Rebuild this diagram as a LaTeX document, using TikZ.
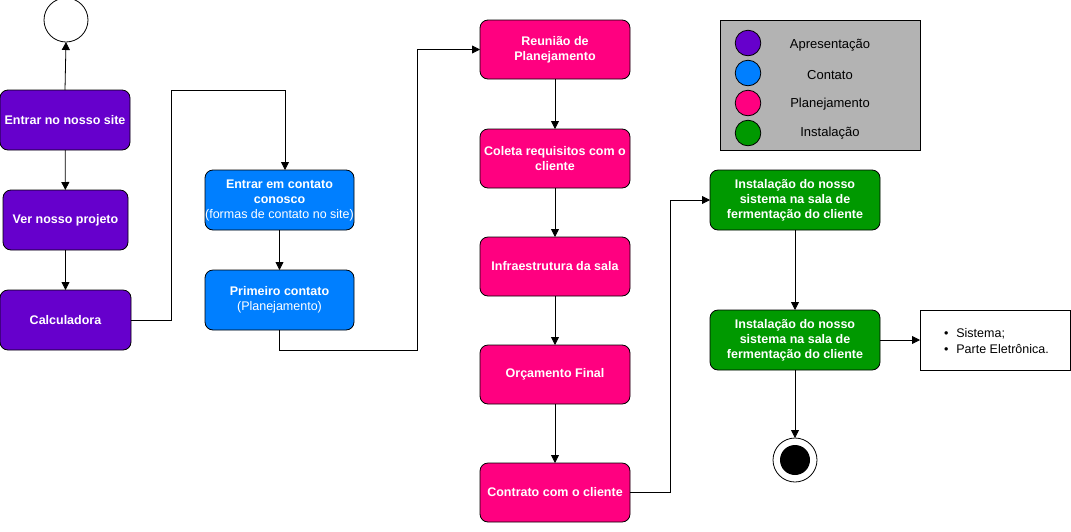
\documentclass[tikz,border=0pt]{standalone}
\usepackage{fontspec}
\setmainfont{Liberation Sans}
\usetikzlibrary{arrows.meta}
\definecolor{cPurple}{RGB}{102,0,204}
\definecolor{cBlue}{RGB}{0,127,255}
\definecolor{cPink}{RGB}{255,0,128}
\definecolor{cGreen}{RGB}{0,153,0}
\definecolor{cLegend}{RGB}{179,179,179}
\begin{document}
\begin{tikzpicture}[x=1pt,y=-1pt,
  every node/.style={inner sep=0pt,outer sep=0pt},
  stepbox/.style={draw=black,line width=0.8pt,rounded corners=8pt,
    minimum height=60pt,align=center,text=white,
    font=\fontsize{12.5}{15}\selectfont\bfseries},
  apres/.style={stepbox,fill=cPurple},
  cont/.style={stepbox,fill=cBlue},
  plan/.style={stepbox,fill=cPink,minimum width=150pt,minimum height=59pt},
  inst/.style={stepbox,fill=cGreen,minimum width=170pt},
  arr/.style={draw=black,line width=0.8pt,-{Triangle[length=8pt,width=8pt]}},
  legdot/.style={circle,draw=black,line width=0.8pt,minimum size=25.6pt},
  legtxt/.style={font=\fontsize{13}{15.5}\selectfont},
]
\useasboundingbox (0,0) rectangle (1071,531);

% start node
\node[circle,draw=black,line width=0.8pt,fill=white,minimum size=44pt] (start) at (66,20) {};

% presentation steps
\node[apres,minimum width=130pt] (site) at (65,120) {Entrar no nosso site};
\node[apres,minimum width=125pt] (proj) at (65.5,220) {Ver nosso projeto};
\node[apres,minimum width=131pt] (calc) at (65.5,320) {Calculadora};

% contact steps
\node[cont,minimum width=149pt] (contato) at (279.5,200)
  {Entrar em contato\\conosco\\{\mdseries(formas de contato no site)}};
\node[cont,minimum width=149pt] (primeiro) at (279.5,300)
  {Primeiro contato\\{\mdseries(Planejamento)}};

% planning steps
\node[plan] (reuniao) at (555,49.5) {Reunião de\\Planejamento};
\node[plan] (coleta) at (555,158.5) {Coleta requisitos com o\\cliente};
\node[plan] (infra) at (555,266.5) {Infraestrutura da sala};
\node[plan] (orc) at (555,374.5) {Orçamento Final};
\node[plan] (contrato) at (555,492.5) {Contrato com o cliente};

% installation steps
\node[inst] (inst1) at (795,200)
  {Instalação do nosso\\sistema na sala de\\fermentação do cliente};
\node[inst] (inst2) at (795,340)
  {Instalação do nosso\\sistema na sala de\\fermentação do cliente};

% note with the installed parts
\node[draw=black,line width=0.8pt,fill=white,minimum width=150pt,minimum height=60pt] (notes) at (995,340) {};
\node[font=\fontsize{12.5}{15.5}\selectfont,anchor=west,align=left] (notetxt) at (944,341)
  {\textbullet\hspace{8pt}Sistema;\\\textbullet\hspace{8pt}Parte Eletrônica.};

% final node
\node[circle,draw=black,line width=0.8pt,fill=white,minimum size=44pt] (endc) at (795,460) {};
\node[circle,fill=black,minimum size=30pt] (endin) at (795,460) {};

% legend
\node[draw=black,line width=1pt,fill=cLegend,minimum width=200pt,minimum height=130pt] (legend) at (820,85) {};
\node[legdot,fill=cPurple] (lg1) at (748,43) {};
\node[legdot,fill=cBlue] (lg2) at (748,73) {};
\node[legdot,fill=cPink] (lg3) at (748,103) {};
\node[legdot,fill=cGreen] (lg4) at (748,133) {};
\node[legtxt] (lt1) at (830,45) {Apresentação};
\node[legtxt] (lt2) at (830,75) {Contato};
\node[legtxt] (lt3) at (830,104) {Planejamento};
\node[legtxt] (lt4) at (830,133) {Instalação};

% connectors
\draw[arr] (site.north) -- (start.south);
\draw[arr] (site) -- (proj);
\draw[arr] (proj) -- (calc);
\draw[arr] (calc.east) -- ++(40,0) -- ++(0,-230) -| ([xshift=5.5pt]contato.north);
\draw[arr] (contato) -- (primeiro);
\draw[arr] (primeiro.south) -- ++(0,20) -- ++(137.5,0) |- (reuniao.west);
\draw[arr] (reuniao) -- (coleta);
\draw[arr] (coleta) -- (infra);
\draw[arr] (infra) -- (orc);
\draw[arr] (orc) -- (contrato);
\draw[arr] (contrato.east) -- ++(40,0) |- (inst1.west);
\draw[arr] (inst1) -- (inst2);
\draw[arr] (inst2) -- (notes);
\draw[arr] (inst2.south) -- (endc.north);
\end{tikzpicture}
\end{document}
